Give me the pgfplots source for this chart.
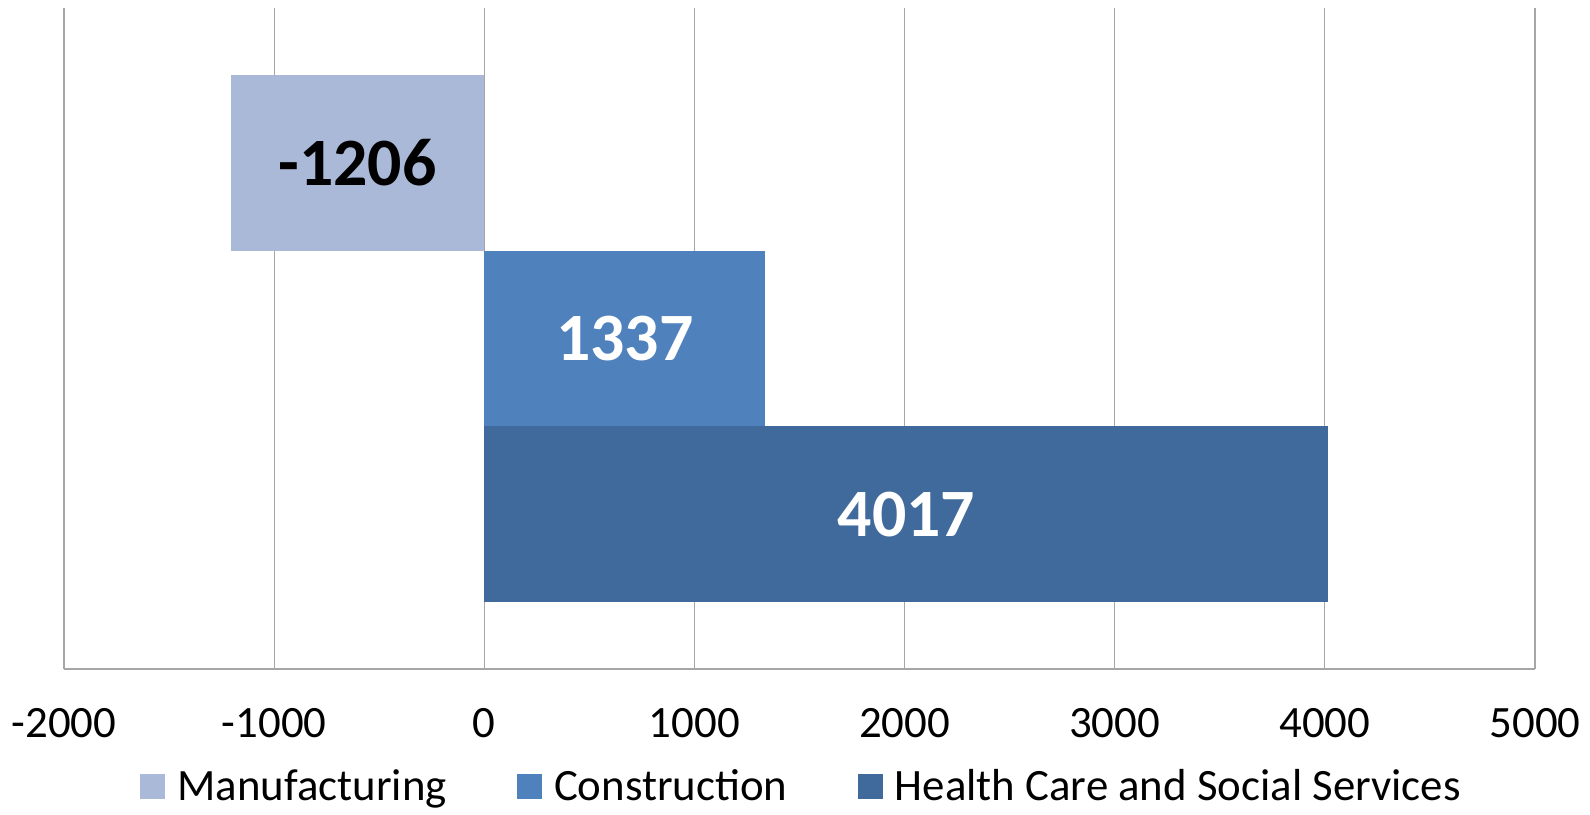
\documentclass[border=0pt]{standalone}
\usepackage{fontspec}
\setmainfont{Carlito}
\usepackage{pgfplots}
\pgfplotsset{compat=1.18}
\definecolor{manu}{HTML}{AAB9D7}
\definecolor{cons}{HTML}{4F81BD}
\definecolor{heal}{HTML}{416A9C}
\definecolor{gridc}{HTML}{A6A6A6}
\begin{document}
\begin{tikzpicture}
\begin{axis}[
  at={(0,0)}, anchor=south west,
  scale only axis, width=735.5bp, height=330.5bp,
  xmin=-2000, xmax=5000, ymin=0.119, ymax=3.881,
  xtick={-2000,-1000,...,5000}, ytick=\empty,
  xmajorgrids, grid style={gridc, line width=0.6bp},
  axis y line=none, axis x line*=bottom,
  x axis line style={gridc, line width=0.6bp, -},
  major tick length=0pt,
  xticklabel style={font=\fontsize{22.5}{27}\selectfont, anchor=center, yshift=-27bp, text=black},
  /pgf/number format/assume math mode=true,
  /pgf/number format/set thousands separator={},
  legend columns=3,
  legend style={at={(0.502,-0.178)}, anchor=center, draw=none, fill=none,
    font=\fontsize{22.5}{27}\selectfont,
    /tikz/every odd column/.append style={column sep=4bp},
    /tikz/every even column/.append style={column sep=33bp}},
  legend image code/.code={\fill[#1] (0bp,-6.35bp) rectangle (12.7bp,6.35bp);},
]
\addplot[xbar, bar width=1, bar shift=0pt, fill=manu, draw=none] coordinates {(-1206,3)};
\addlegendentry{Manufacturing}
\addplot[xbar, bar width=1, bar shift=0pt, fill=cons, draw=none] coordinates {(1337,2)};
\addlegendentry{Construction}
\addplot[xbar, bar width=1, bar shift=0pt, fill=heal, draw=none] coordinates {(4017,1)};
\addlegendentry{Health Care and Social Services}
\addplot[forget plot, draw=none, mark=none, nodes near coords, point meta=explicit symbolic,
  every node near coord/.append style={anchor=center, font=\fontsize{34}{40}\selectfont\bfseries, text=black}]
  coordinates {(-603,3) [-1206]};
\addplot[forget plot, draw=none, mark=none, nodes near coords, point meta=explicit symbolic,
  every node near coord/.append style={anchor=center, font=\fontsize{34}{40}\selectfont\bfseries, text=white}]
  coordinates {(668.5,2) [1337] (2008.5,1) [4017]};
\end{axis}
\pgfresetboundingbox
\path (-32bp,-73bp) rectangle (763bp,334.5bp);
\end{tikzpicture}
\end{document}
